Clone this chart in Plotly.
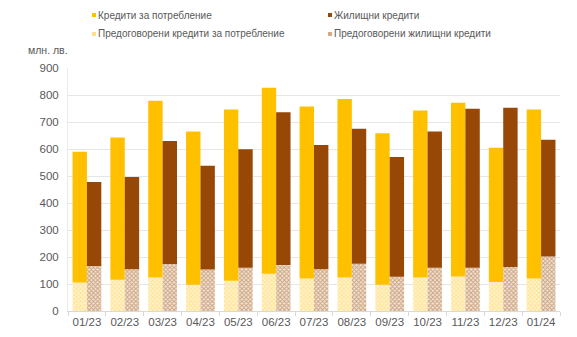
import plotly.graph_objects as go

months = ["01/23", "02/23", "03/23", "04/23", "05/23", "06/23", "07/23",
          "08/23", "09/23", "10/23", "11/23", "12/23", "01/24"]

# Total new business volumes, млн. лв.
consumer_total = [590, 643, 779, 665, 746, 827, 757, 785, 658, 743, 771, 605, 746]
housing_total = [478, 496, 630, 538, 599, 736, 615, 675, 570, 665, 749, 753, 634]

# Renegotiated part of the totals
consumer_reneg = [106, 116, 124, 97, 112, 138, 120, 124, 97, 124, 128, 107, 120]
housing_reneg = [167, 155, 174, 154, 160, 170, 155, 175, 127, 160, 160, 163, 202]

names = ["Кредити за потребление", "Жилищни кредити",
         "Предоговорени кредити за потребление", "Предоговорени жилищни кредити"]

C_CONS = "#FFC000"
C_HOUS = "#974706"
TXT = "#595959"
FONT = "Liberation Sans"
W = 0.38

fig = go.Figure()

consumer_new = [t - r for t, r in zip(consumer_total, consumer_reneg)]
housing_new = [t - r for t, r in zip(housing_total, housing_reneg)]

# renegotiated segments at the bottom of each bar
fig.add_trace(go.Bar(x=months, y=consumer_reneg, base=[0] * len(months),
                     offset=-W, width=W, name=names[2], showlegend=False,
                     marker=dict(color="#FFFFFF", line=dict(width=0),
                                 pattern=dict(shape="x", fgcolor="#FFD45C",
                                              bgcolor="#FFF4D0", size=3, solidity=0.55))))
fig.add_trace(go.Bar(x=months, y=housing_reneg, base=[0] * len(months),
                     offset=0, width=W, name=names[3], showlegend=False,
                     marker=dict(color="#FFFFFF", line=dict(width=0),
                                 pattern=dict(shape="x", fgcolor="#A2652F",
                                              bgcolor="#F3E3D4", size=3, solidity=0.55))))
# remaining new business stacked on top
fig.add_trace(go.Bar(x=months, y=consumer_new, base=consumer_reneg,
                     offset=-W, width=W, name=names[0], showlegend=False,
                     marker=dict(color=C_CONS, line=dict(width=0))))
fig.add_trace(go.Bar(x=months, y=housing_new, base=housing_reneg,
                     offset=0, width=W, name=names[1], showlegend=False,
                     marker=dict(color=C_HOUS, line=dict(width=0))))

# legend drawn as small swatches with labels
legend_items = [
    (names[0], C_CONS, 92, 15),
    (names[1], C_HOUS, 328, 15),
    (names[2], "#FFE08A", 92, 34),
    (names[3], "#D9A982", 328, 34),
]
H = 337
WID = 577
for label, col, px, py in legend_items:
    fig.add_shape(type="rect", xref="paper", yref="paper",
                  x0=(px - 68) / 492, x1=(px + 4 - 68) / 492,
                  y0=(311 - (py + 2)) / 243, y1=(311 - (py - 2)) / 243,
                  fillcolor=col, line=dict(width=0))
    fig.add_annotation(text=label, xref="paper", yref="paper",
                       x=(px + 4 - 68) / 492, y=(311 - py) / 243,
                       xanchor="left", yanchor="middle", showarrow=False,
                       font=dict(family=FONT, size=10, color=TXT))

fig.add_annotation(text="млн. лв.", xref="paper", yref="paper",
                   x=(26 - 68) / 492, y=(311 - 50) / 243,
                   xanchor="left", yanchor="middle", showarrow=False,
                   font=dict(family=FONT, size=10.5, color=TXT))

fig.update_layout(
    width=WID, height=H,
    margin=dict(l=68, r=17, t=68, b=26),
    barmode="overlay",
    plot_bgcolor="white", paper_bgcolor="white",
    showlegend=False,
    font=dict(family=FONT, size=11, color=TXT),
)
fig.update_xaxes(type="category", showline=True, linecolor="#D9D9D9",
                 ticks="outside", tickson="boundaries", ticklen=4,
                 tickcolor="#D9D9D9", showgrid=False, tickangle=0,
                 automargin=False,
                 tickfont=dict(family=FONT, size=11.5, color=TXT))
fig.update_yaxes(range=[0, 900], dtick=100, showgrid=True, gridcolor="#E6E6E6",
                 zeroline=False, showline=True, linecolor="#EBEBEB",
                 ticks="", ticklabelstandoff=6, automargin=False,
                 tickfont=dict(family=FONT, size=11.5, color=TXT))

fig.write_html("out.html")
